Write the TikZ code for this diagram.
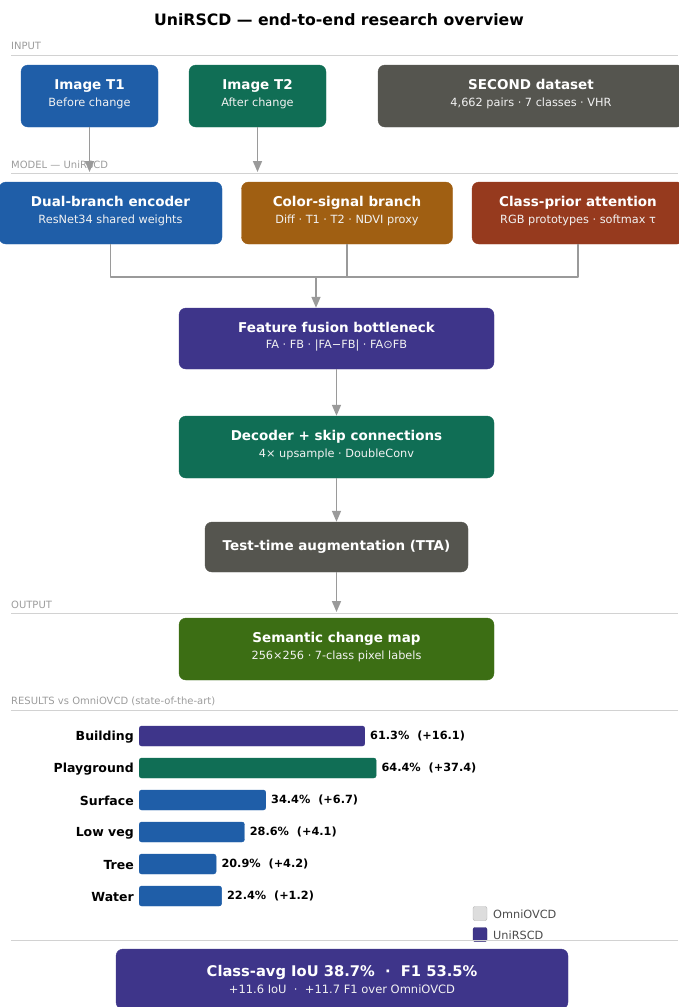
\documentclass[tikz,border=0pt]{standalone}
\usepackage{fontspec}
\setmainfont{DejaVu Sans}
\usetikzlibrary{arrows.meta}
\definecolor{encBlue}{HTML}{1F5EA8}
\definecolor{decTeal}{HTML}{106E55}
\definecolor{dataGray}{HTML}{55554F}
\definecolor{sigBrown}{HTML}{A05F12}
\definecolor{attRust}{HTML}{963A1E}
\definecolor{fusPurple}{HTML}{3E358A}
\definecolor{mapGreen}{HTML}{3C6E14}
\definecolor{linkGray}{HTML}{9A9A9A}
\definecolor{ruleGray}{HTML}{D2D2D2}
\definecolor{sectGray}{HTML}{9C9C9C}
\definecolor{omniGray}{HTML}{DDDDDD}
\newcommand{\boxtext}[2]{{\bfseries\fontsize{13.5}{15}\selectfont #1}\\[4.5pt]{\fontsize{11.3}{13.5}\selectfont\color{white!90!gray}#2\rule[-6pt]{0pt}{1pt}}}
\begin{document}
\begin{tikzpicture}[x=1pt,y=-1pt,>={Triangle[length=11pt,width=9pt]},line join=bevel,
  box/.style={rounded corners=7pt,fill=#1,draw=#1,text=white,align=center,inner sep=0pt},
  link/.style={draw=linkGray,line width=1.6pt},
  rule/.style={draw=ruleGray,line width=1pt},
  sect/.style={anchor=west,text=sectGray,inner sep=0pt,font=\fontsize{10}{12}\selectfont},
  bar/.style={rounded corners=2.5pt,fill=#1,draw=#1,minimum height=20pt,inner sep=0pt,anchor=west},
  barlab/.style={anchor=east,inner sep=0pt,font=\bfseries\fontsize{12.5}{14}\selectfont},
  barval/.style={anchor=west,inner sep=0pt,font=\bfseries\fontsize{11.3}{13}\selectfont},
  legbox/.style={rounded corners=2pt,fill=#1,draw=#1!80!black,minimum size=14pt,inner sep=0pt},
  legtext/.style={anchor=west,inner sep=0pt,text=black!70,font=\fontsize{11.3}{13}\selectfont}]
\useasboundingbox (0,0) rectangle (678,1007);
%% title and section rules
\node (title) at (339,20) [font=\bfseries\fontsize{15.7}{18}\selectfont] {UniRSCD — end-to-end research overview};
\node (sec_in) at (11,46) [sect] {INPUT};
\node (sec_model) at (11,165) [sect] {MODEL — UniRSCD};
\node (sec_out) at (11,605) [sect] {OUTPUT};
\node (sec_res) at (11,701) [sect] {RESULTS vs OmniOVCD (state-of-the-art)};
\draw [rule] (11,55) -- (678,55);
\draw [rule] (11,173) -- (678,173);
\draw [rule] (11,613) -- (678,613);
\draw [rule] (11,710) -- (678,710);
%% input row
\node (img_t1) at (89.5,96) [box=encBlue,minimum width=137pt,minimum height=62pt] {\boxtext{Image T1}{Before change}};
\node (img_t2) at (257.5,96) [box=decTeal,minimum width=137pt,minimum height=62pt] {\boxtext{Image T2}{After change}};
\node (dataset) at (531,96) [box=dataGray,minimum width=306pt,minimum height=62pt] {\boxtext{SECOND dataset}{4,662 pairs · 7 classes · VHR}};
\coordinate (t1_end) at (img_t1.south |- 0,172);
\coordinate (t2_end) at (img_t2.south |- 0,172);
\draw [link,->,fill=linkGray] (img_t1.south) -- (t1_end);
\draw [link,->,fill=linkGray] (img_t2.south) -- (t2_end);
%% model row
\node (encoder) at (110.5,213) [box=encBlue,minimum width=223pt,minimum height=62pt] {\boxtext{Dual-branch encoder}{ResNet34 shared weights}};
\node (colorsig) at (347,213) [box=sigBrown,minimum width=211pt,minimum height=62pt] {\boxtext{Color-signal branch}{Diff · T1 · T2 · NDVI proxy}};
\node (classprior) at (578,213) [box=attRust,minimum width=212pt,minimum height=62pt] {\boxtext{Class-prior attention}{RGB prototypes · softmax τ}};
\coordinate (merge) at (316,277);
\draw [link] (encoder.south) |- (merge) -| (classprior.south);
\draw [link] (colorsig.south) -- (colorsig.south |- merge);
\node (fusion) at (336.5,338.5) [box=fusPurple,minimum width=315pt,minimum height=61pt] {\boxtext{Feature fusion bottleneck}{FA · FB · |FA−FB| · FA⊙FB}};
\draw [link,->,fill=linkGray] (merge) -- (merge |- fusion.north);
\node (decoder) at (336.5,447) [box=decTeal,minimum width=315pt,minimum height=62pt] {\boxtext{Decoder + skip connections}{4× upsample · DoubleConv}};
\node (tta) at (336.5,547) [box=dataGray,minimum width=263pt,minimum height=50pt,font=\bfseries\fontsize{13.5}{15}\selectfont] {Test-time augmentation (TTA)};
\draw [link,->,fill=linkGray] (fusion) -- (decoder);
\draw [link,->,fill=linkGray] (decoder) -- (tta);
%% output
\node (changemap) at (336.5,649) [box=mapGreen,minimum width=315pt,minimum height=62pt] {\boxtext{Semantic change map}{256×256 · 7-class pixel labels}};
\coordinate (map_end) at (tta.south |- 0,612);
\draw [link,->,fill=linkGray] (tta.south) -- (map_end);
%% results
\foreach \lab/\val/\gain/\col [count=\i] in {Building/61.3/+16.1/fusPurple,Playground/64.4/+37.4/decTeal,Surface/34.4/+6.7/encBlue,Low veg/28.6/+4.1/encBlue,Tree/20.9/+4.2/encBlue,Water/22.4/+1.2/encBlue}{
  \node (bar_\i) at (139,704+32*\i) [bar=\col,minimum width=\val*3.68pt] {};
  \node (lab_\i) at ([xshift=-5pt,yshift=-1pt]bar_\i.west) [barlab] {\lab};
  \node (val_\i) at ([xshift=5pt]bar_\i.east) [barval] {\val\%\ \ (\gain)};
}
\node (leg_omni) at (480,913.5) [legbox=omniGray] {};
\node (leg_omni_txt) at (493,914) [legtext] {OmniOVCD};
\node (leg_uni) at (480,934.5) [legbox=fusPurple] {};
\node (leg_uni_txt) at (493,935) [legtext] {UniRSCD};
\draw [rule] (11,940) -- (678,940);
%% summary
\node (summary) at (342,979) [box=fusPurple,minimum width=452pt,minimum height=60pt] {{\bfseries\fontsize{14.7}{17}\selectfont Class-avg IoU 38.7\%\ \ ·\ \ F1 53.5\%}\\[5pt]{\fontsize{11.5}{13.5}\selectfont\color{white!90!gray}+11.6 IoU\ \ ·\ \ +11.7 F1 over OmniOVCD}};
%
\end{tikzpicture}
\end{document}
